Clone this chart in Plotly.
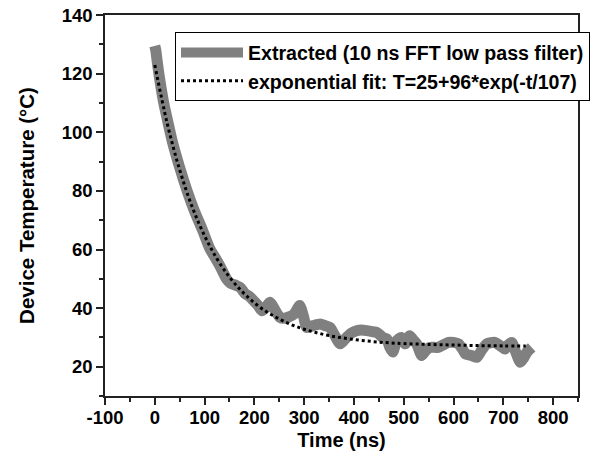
import plotly.graph_objects as go

# Extracted temperature trace (ns, degC)
t_extracted = [0, 2, 5, 10, 18, 25, 35, 50, 65, 80, 95, 110, 122, 132, 144, 152, 164, 172,
               181, 190, 198, 207, 215, 222, 231, 241, 251, 260, 268, 280, 291, 299, 305,
               318, 332, 342, 352, 362, 372, 385, 395, 405, 415, 426, 436, 446, 458, 466,
               472, 478, 486, 495, 503, 512, 520, 526, 536, 544, 552, 569, 580, 590, 600,
               610, 618, 624, 636, 647, 656, 667, 683, 695, 703, 710, 717, 725, 734, 741,
               747, 757]
T_extracted = [129.5, 128, 124, 118, 110, 104.5, 97, 88, 80, 73, 67, 60.5, 57, 54, 50, 48.5,
               47.7, 47, 45, 44, 42.6, 41, 39.1, 40, 42, 39.5, 36.9, 36.5, 36.9, 38, 40.9, 37,
               33.4, 34, 34.6, 34, 33.4, 30.5, 27.8, 30, 31.5, 32.3, 32.5, 32.3, 32, 31.7, 30,
               29.5, 26.6, 25, 28.9, 30, 27.8, 30.6, 29, 27.8, 23.8, 25.5, 26.6, 26.6, 27.5,
               28.3, 28.3, 27.8, 26, 24.3, 23.8, 23.2, 25.5, 27.8, 28.3, 27, 26.0, 27.5, 28.3,
               25, 21.5, 23, 24.9, 26.6]

# Exponential fit curve as drawn
t_fit = [0, 25, 50, 75, 100, 125, 150, 175, 200, 225, 250, 275, 300, 325, 350, 375, 400,
         425, 450, 475, 500, 550, 600, 650, 700, 745]
T_fit = [123.0, 103.0, 87.2, 74.6, 64.7, 56.8, 50.6, 45.7, 41.8, 38.7, 36.3, 34.3, 32.8,
         31.6, 30.6, 29.9, 29.3, 28.8, 28.4, 28.1, 27.9, 27.6, 27.4, 27.2, 27.1, 27.1]

# Tick labels
x_tickvals = [-100, 0, 100, 200, 300, 400, 500, 600, 700, 800]
x_ticktext = ["-100", "0", "100", "200", "300", "400", "500", "600", "700", "800"]
y_tickvals = [20, 40, 60, 80, 100, 120, 140]
y_ticktext = ["20", "40", "60", "80", "100", "120", "140"]

name_extracted = "Extracted (10 ns FFT low pass filter)"
name_fit = "exponential fit: T=25+96*exp(-t/107)"

FONT = "Liberation Sans, Arial, sans-serif"

fig = go.Figure()
fig.add_trace(go.Scatter(x=t_extracted, y=T_extracted, mode="lines", name=name_extracted,
                         line=dict(color="#808080", width=11, shape="spline", smoothing=0.6)))
fig.add_trace(go.Scatter(x=t_fit, y=T_fit, mode="lines", name=name_fit,
                         line=dict(color="black", width=3, dash="dot", shape="spline")))

axis_common = dict(showline=True, linecolor="#222", linewidth=1.5, mirror=True,
                   ticks="outside", ticklen=7, tickwidth=1.5, tickcolor="#222",
                   showgrid=False, zeroline=False,
                   tickfont=dict(family=FONT, size=18.5, color="black", weight="bold"))

fig.update_xaxes(range=[-100, 850], tickmode="array", tickvals=x_tickvals, ticktext=x_ticktext,
                 ticklabelstandoff=-3,
                 minor=dict(ticks="outside", ticklen=4, tickwidth=1.5, tickcolor="#222",
                            tickmode="linear", tick0=-50, dtick=100),
                 title=dict(text="Time (ns)", font=dict(family=FONT, size=20, color="black", weight="bold"),
                            standoff=6),
                 **axis_common)
fig.update_yaxes(range=[10, 140.05], tickmode="array", tickvals=y_tickvals, ticktext=y_ticktext,
                 minor=dict(ticks="outside", ticklen=4, tickwidth=1.5, tickcolor="#222",
                            tickmode="linear", tick0=10, dtick=20),
                 title=dict(text="Device Temperature (°C)",
                            font=dict(family=FONT, size=20.5, color="black", weight="bold"),
                            standoff=21),
                 **axis_common)

fig.update_layout(
    width=608, height=467,
    margin=dict(l=105, r=30, t=15, b=71, autoexpand=False),
    plot_bgcolor="white", paper_bgcolor="white",
    legend=dict(x=0.148, y=0.955, xanchor="left", yanchor="top",
                bgcolor="white", bordercolor="black", borderwidth=1,
                itemwidth=62, tracegroupgap=0,
                font=dict(family=FONT, size=19.6, color="black", weight="bold")),
    showlegend=True,
)

fig.write_html("out.html", config={"displayModeBar": False},
               post_script="document.body.style.margin='0';document.body.style.overflow='hidden';")
